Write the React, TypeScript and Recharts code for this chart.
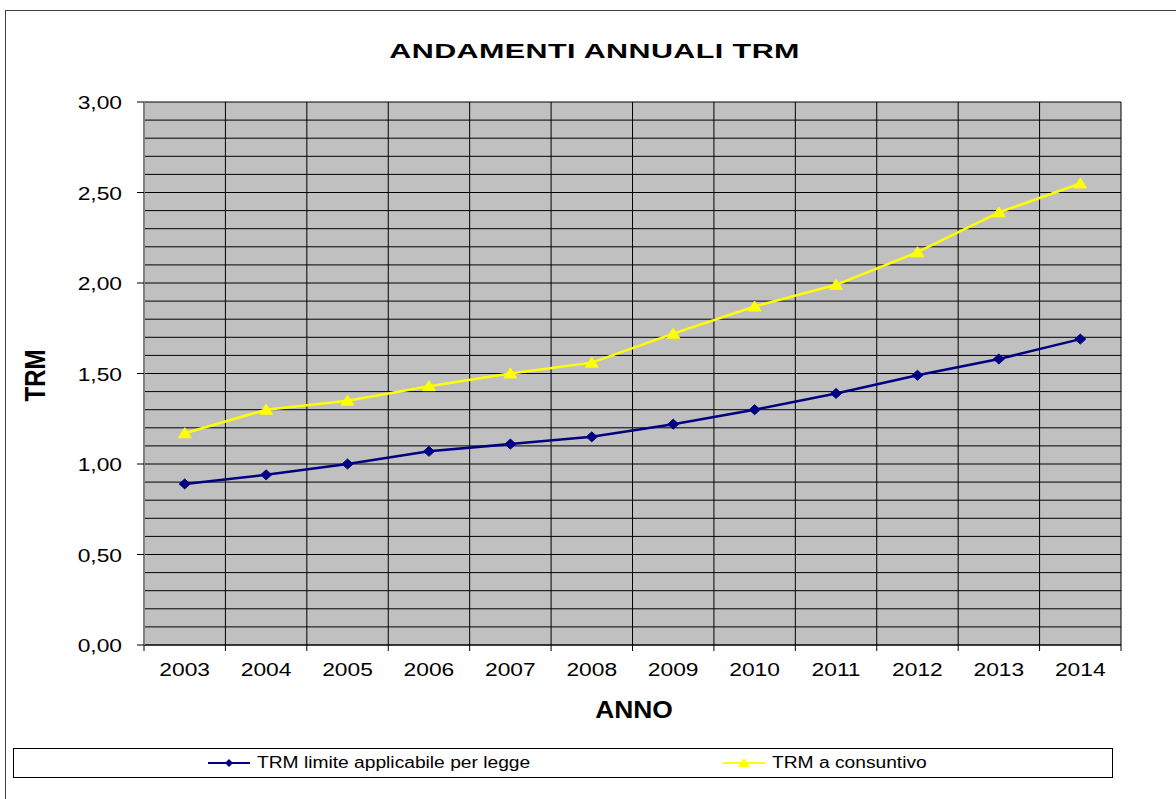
import React from "react";
import { LineChart, Line, XAxis, YAxis, CartesianGrid } from "recharts";

const YEARS = ["2003", "2004", "2005", "2006", "2007", "2008", "2009", "2010", "2011", "2012", "2013", "2014"];
const TRM_LIMITE = [0.89, 0.94, 1.0, 1.07, 1.11, 1.15, 1.22, 1.3, 1.39, 1.49, 1.58, 1.69];
const TRM_CONSUNTIVO = [1.17, 1.3, 1.35, 1.43, 1.5, 1.56, 1.72, 1.87, 1.99, 2.17, 2.39, 2.55];

// every 0.10 gets a grid line, only the 0.50 steps get a label
const Y_GRID_TICKS = [
  0, 0.1, 0.2, 0.3, 0.4, 0.5, 0.6, 0.7, 0.8, 0.9, 1.0, 1.1, 1.2, 1.3, 1.4, 1.5,
  1.6, 1.7, 1.8, 1.9, 2.0, 2.1, 2.2, 2.3, 2.4, 2.5, 2.6, 2.7, 2.8, 2.9, 3.0,
];
const Y_LABEL_TICKS = [0, 0.5, 1.0, 1.5, 2.0, 2.5, 3.0];

const SERIES_LIMITE = "TRM limite applicabile per legge";
const SERIES_CONSUNTIVO = "TRM a consuntivo";
const NAVY = "#000080";
const YELLOW = "#FFFF00";

const W = 1176;
const H = 799;
const MARGIN = { top: 102, right: 55, bottom: 74, left: 0 };
const Y_AXIS_W = 144;
const X_AXIS_H = 80;
const PLOT_W = W - MARGIN.left - MARGIN.right - Y_AXIS_W;
const BAND = PLOT_W / YEARS.length;

const FONT = '"Liberation Sans", Arial, sans-serif';

const data = YEARS.map((anno, i) => ({
  anno,
  limite: TRM_LIMITE[i],
  consuntivo: TRM_CONSUNTIVO[i],
}));

const fmt = (v: number) => v.toFixed(2).replace(".", ",");

function YTick(props: any) {
  const { x, y, payload } = props;
  const v = payload.value;
  if (!Y_LABEL_TICKS.some((t) => Math.abs(t - v) < 1e-6)) return <g />;
  return (
    <g>
      <line x1={x - 7} x2={x} y1={y} y2={y} stroke="#000" />
      <text
        transform={`translate(${x - 22},${y + 7}) scale(1.2,1)`}
        textAnchor="end"
        fontFamily={FONT}
        fontSize={19}
        fill="#000"
      >
        {fmt(v)}
      </text>
    </g>
  );
}

function XTick(props: any) {
  const { x, y, payload, index } = props;
  const left = x - BAND / 2;
  const right = x + BAND / 2;
  return (
    <g>
      <line x1={left} x2={left} y1={y} y2={y + 6} stroke="#000" />
      {index === YEARS.length - 1 && <line x1={right} x2={right} y1={y} y2={y + 6} stroke="#000" />}
      <text
        transform={`translate(${x},${y + 31}) scale(1.2,1)`}
        textAnchor="middle"
        fontFamily={FONT}
        fontSize={19}
        fill="#000"
      >
        {payload.value}
      </text>
    </g>
  );
}

const renderYLabel = ({ viewBox }: any) => {
  const cy = viewBox.y + viewBox.height / 2 + 2;
  return (
    <text
      transform={`translate(45,${cy}) scale(1.25,1) rotate(-90)`}
      textAnchor="middle"
      fontFamily={FONT}
      fontWeight="bold"
      fontSize={24}
      fill="#000"
    >
      TRM
    </text>
  );
};

const renderXLabel = ({ viewBox }: any) => {
  const cx = viewBox.x + viewBox.width / 2 + 1.5;
  return (
    <text
      transform={`translate(${cx},${viewBox.y + 73}) scale(1.1,1)`}
      textAnchor="middle"
      fontFamily={FONT}
      fontWeight="bold"
      fontSize={24}
      fill="#000"
    >
      ANNO
    </text>
  );
};

const renderDiamond = (p: any) => {
  const { cx, cy, index } = p;
  if (cx == null || cy == null) return <g key={`d${index}`} />;
  return (
    <polygon
      key={`d${index}`}
      points={`${cx},${cy - 5} ${cx + 5.5},${cy} ${cx},${cy + 5} ${cx - 5.5},${cy}`}
      fill={NAVY}
      stroke={NAVY}
    />
  );
};

const renderTriangle = (p: any) => {
  const { cx, cy, index } = p;
  if (cx == null || cy == null) return <g key={`t${index}`} />;
  return (
    <polygon
      key={`t${index}`}
      points={`${cx},${cy - 5.5} ${cx + 6.5},${cy + 4.5} ${cx - 6.5},${cy + 4.5}`}
      fill={YELLOW}
      stroke={YELLOW}
    />
  );
};

function LegendItem({ left, color, name, marker }: { left: number; color: string; name: string; marker: "diamond" | "triangle" }) {
  return (
    <div style={{ position: "absolute", left, top: 0, height: 28, display: "flex", alignItems: "center" }}>
      <svg width={42} height={14}>
        <line x1={0} x2={42} y1={7} y2={7} stroke={color} strokeWidth={2} />
        {marker === "diamond" ? (
          <polygon points="21,3 25,7 21,11 17,7" fill={color} />
        ) : (
          <polygon points="21,2 27,11 15,11" fill={color} />
        )}
      </svg>
      <span
        style={{
          marginLeft: 7,
          fontSize: 16,
          display: "inline-block",
          transform: "scaleX(1.2)",
          transformOrigin: "left center",
          whiteSpace: "nowrap",
          color: "#000",
        }}
      >
        {name}
      </span>
    </div>
  );
}

export default function App() {
  return (
    <div
      style={{
        position: "absolute",
        left: 0,
        top: 0,
        width: W,
        height: H,
        overflow: "hidden",
        background: "#fff",
        fontFamily: FONT,
      }}
    >
      <div
        style={{
          position: "absolute",
          left: 5,
          top: 10,
          width: 1300,
          height: 900,
          border: "1px solid #404040",
        }}
      />
      <div
        style={{
          position: "absolute",
          left: 0,
          top: 39,
          width: 1190,
          textAlign: "center",
          fontSize: 21,
          lineHeight: "24px",
          fontWeight: "bold",
          letterSpacing: 0.3,
          color: "#000",
        }}
      >
        <span style={{ display: "inline-block", transform: "scaleX(1.45)" }}>ANDAMENTI ANNUALI TRM</span>
      </div>

      <div style={{ position: "absolute", left: 0, top: 0 }}>
        <LineChart width={W} height={H} data={data} margin={MARGIN}>
          <CartesianGrid
            fill="#C0C0C0"
            stroke="#000"
            strokeOpacity={1}
            verticalCoordinatesGenerator={({ offset }: any) =>
              YEARS.map((_, i) => offset.left + i * BAND).concat(offset.left + offset.width)
            }
          />
          <XAxis
            dataKey="anno"
            height={X_AXIS_H}
            interval={0}
            padding={{ left: BAND / 2, right: BAND / 2 }}
            tickSize={0}
            tickMargin={0}
            tickLine={false}
            axisLine={{ stroke: "#000" }}
            tick={<XTick />}
            label={renderXLabel}
          />
          <YAxis
            width={Y_AXIS_W}
            domain={[0, 3]}
            ticks={Y_GRID_TICKS}
            interval={0}
            tickSize={0}
            tickMargin={0}
            tickLine={false}
            axisLine={{ stroke: "#808080", strokeWidth: 2 }}
            tick={<YTick />}
            label={renderYLabel}
          />
          <YAxis
            yAxisId="right"
            orientation="right"
            width={0}
            domain={[0, 3]}
            tick={false}
            tickLine={false}
            axisLine={{ stroke: "#808080", strokeWidth: 2 }}
          />
          <Line
            dataKey="limite"
            name={SERIES_LIMITE}
            stroke={NAVY}
            strokeWidth={2.5}
            dot={renderDiamond}
            activeDot={false}
            isAnimationActive={false}
          />
          <Line
            dataKey="consuntivo"
            name={SERIES_CONSUNTIVO}
            stroke={YELLOW}
            strokeWidth={2.5}
            dot={renderTriangle}
            activeDot={false}
            isAnimationActive={false}
          />
        </LineChart>
      </div>

      <div
        style={{
          position: "absolute",
          left: 13,
          top: 748,
          width: 1100,
          height: 30,
          boxSizing: "border-box",
          border: "1px solid #000",
          background: "#fff",
        }}
      >
        <LegendItem left={194} color={NAVY} name={SERIES_LIMITE} marker="diamond" />
        <LegendItem left={709} color={YELLOW} name={SERIES_CONSUNTIVO} marker="triangle" />
      </div>
    </div>
  );
}
